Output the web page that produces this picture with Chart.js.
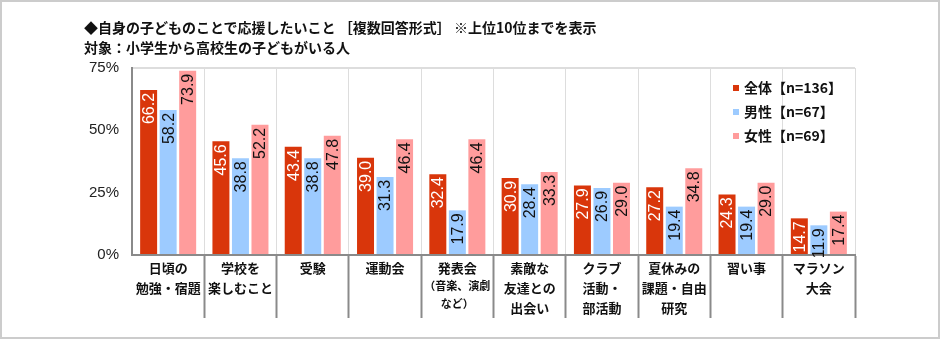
<!DOCTYPE html>
<html>
<head>
<meta charset="utf-8">
<script src="https://cdn.jsdelivr.net/npm/chart.js@4"></script>
<style>
  body { margin: 0; background: #fff; }
  #wrap { position: relative; width: 940px; height: 339px; }
  #frame { position: absolute; left: 0; top: 0; width: 940px; height: 339px; box-sizing: border-box; border: 2px solid #cccccc; pointer-events: none; }
  .ttl { position: absolute; left: 84px; font: bold 14px "Noto Sans CJK JP", sans-serif; color: #111; line-height: 20px; white-space: nowrap; }
</style>
</head>
<body>
<div id="wrap">
  <canvas id="surveyChart" width="940" height="339"></canvas>
  <div class="ttl" style="top:17px">◆自身の子どものことで応援したいこと ［複数回答形式］ ※上位10位までを表示</div>
  <div class="ttl" style="top:37px">対象：小学生から高校生の子どもがいる人</div>
  <div id="frame"></div>
</div>
<script>
// data
var categories = [
    ['日頃の', '勉強・宿題'],
    ['学校を', '楽しむこと'],
    ['受験'],
    ['運動会'],
    ['発表会', '（音楽、演劇', 'など）'],
    ['素敵な', '友達との', '出会い'],
    ['クラブ', '活動・', '部活動'],
    ['夏休みの', '課題・自由', '研究'],
    ['習い事'],
    ['マラソン', '大会']
];
var seriesNames = ['全体【n=136】', '男性【n=67】', '女性【n=69】'];
var allValues = [66.2, 45.6, 43.4, 39.0, 32.4, 30.9, 27.9, 27.2, 24.3, 14.7];
var maleValues = [58.2, 38.8, 38.8, 31.3, 17.9, 28.4, 26.9, 19.4, 19.4, 11.9];
var femaleValues = [73.9, 52.2, 47.8, 46.4, 46.4, 33.3, 29.0, 34.8, 29.0, 17.4];
var yTicks = [0, 25, 50, 75];

var colors = ['#d9360b', '#9dcbff', '#ff9c9c'];
var labelColors = ['#ffffff', '#111111', '#111111'];

// value labels, rotated, inside the top of each bar
var valueLabels = {
    id: 'valueLabels',
    afterDatasetsDraw: function(chart) {
        var ctx = chart.ctx;
        ctx.save();
        ctx.font = '16px "Liberation Sans", Arial, sans-serif';
        ctx.textAlign = 'right';
        ctx.textBaseline = 'middle';
        chart.data.datasets.forEach(function(ds, i) {
            chart.getDatasetMeta(i).data.forEach(function(bar, j) {
                ctx.save();
                ctx.translate(bar.x + 1, bar.y + 3);
                ctx.rotate(-Math.PI / 2);
                ctx.fillStyle = labelColors[i];
                ctx.fillText(ds.data[j].toFixed(1), 0, 0);
                ctx.restore();
            });
        });
        ctx.restore();
    }
};

// category labels under the axis, plus legend inside the plot
var extras = {
    id: 'extras',
    afterDraw: function(chart) {
        var ctx = chart.ctx;
        var xs = chart.scales.x;
        var base = chart.chartArea.bottom;
        ctx.save();
        ctx.textAlign = 'center';
        ctx.textBaseline = 'middle';
        ctx.fillStyle = '#111';
        categories.forEach(function(lines, i) {
            var x = xs.getPixelForTick(i);
            var y = base + 13;
            lines.forEach(function(line) {
                var small = line.indexOf('（') >= 0 || line.indexOf('）') >= 0;
                ctx.font = (small ? 'bold 11px' : 'bold 13px') + ' "Noto Sans CJK JP", sans-serif';
                ctx.fillText(line, x, y + (small ? -2 : 0));
                y += small ? 18 : 20;
            });
        });

        // legend
        ctx.textAlign = 'left';
        ctx.font = 'bold 14px "Noto Sans CJK JP", sans-serif';
        seriesNames.forEach(function(name, i) {
            var ly = 88 + i * 24;
            ctx.fillStyle = colors[i];
            ctx.fillRect(733, ly - 3, 6, 6);
            ctx.fillStyle = '#111';
            ctx.fillText(name, 744, ly);
        });
        ctx.restore();
    }
};

var ctx = document.getElementById('surveyChart').getContext('2d');
var surveyChart = new Chart(ctx, {
    type: 'bar',
    data: {
        labels: categories,
        datasets: [
            { label: seriesNames[0], data: allValues, backgroundColor: colors[0] },
            { label: seriesNames[1], data: maleValues, backgroundColor: colors[1] },
            { label: seriesNames[2], data: femaleValues, backgroundColor: colors[2] }
        ]
    },
    options: {
        responsive: false,
        animation: false,
        devicePixelRatio: 1,
        categoryPercentage: 0.81,
        barPercentage: 0.87,
        layout: { padding: { top: 68, right: 85, bottom: 19, left: 0 } },
        plugins: {
            legend: { display: false },
            tooltip: { enabled: false }
        },
        scales: {
            x: {
                ticks: { display: false },
                grid: {
                    offset: true,
                    color: '#dddddd',
                    tickLength: 63,
                    tickColor: function(c) {
                        return (c.index === 0 || c.index >= categories.length) ? 'rgba(0,0,0,0)' : '#8a8a8a';
                    },
                    tickWidth: 2
                },
                border: { color: '#8a8a8a', width: 2 },
                afterFit: function(s) { s.height = 65; }
            },
            y: {
                min: 0,
                max: 75,
                afterBuildTicks: function(s) {
                    s.ticks = yTicks.map(function(v) { return { value: v }; });
                },
                ticks: {
                    padding: 13,
                    color: '#222',
                    font: { family: '"Liberation Sans", Arial, sans-serif', size: 15 },
                    callback: function(v) { return v + '%'; }
                },
                grid: {
                    drawTicks: false,
                    color: function(c) {
                        return c.tick && c.tick.value === 75 ? '#dddddd' : 'rgba(0,0,0,0)';
                    },
                    lineWidth: 2
                },
                border: { color: '#8a8a8a', width: 2 },
                afterFit: function(s) { s.width = 132; }
            }
        }
    },
    plugins: [valueLabels, extras]
});
</script>
</body>
</html>
